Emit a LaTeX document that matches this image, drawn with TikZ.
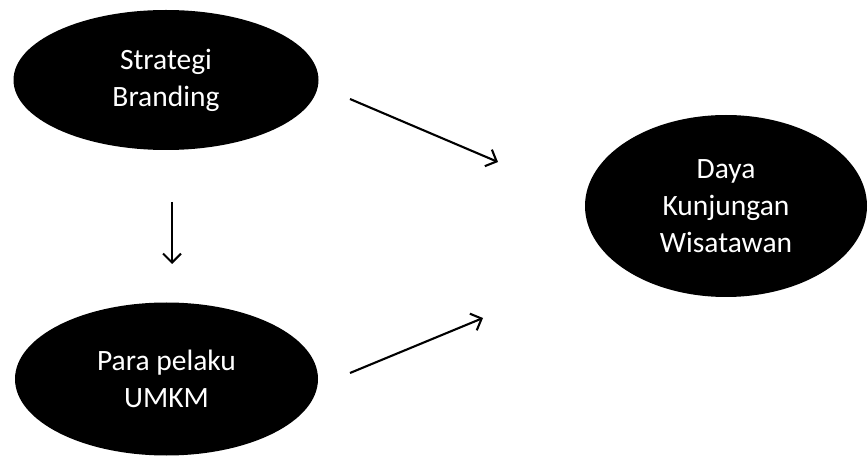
\documentclass[tikz,border=0pt]{standalone}
\usepackage{fontspec}
\setmainfont{Carlito}
\usetikzlibrary{shapes.geometric,arrows.meta}
\begin{document}
\begin{tikzpicture}[x=1pt,y=-1pt,
  oval/.style={ellipse,fill=black,draw=none,inner sep=0pt,text=white,align=center,
    font=\fontsize{29.5}{37}\selectfont},
  link/.style={line width=2.1pt,-{Straight Barb[length=9pt,width=18pt,line width=2.1pt]}}]
\useasboundingbox (0,0) rectangle (868,457);
\node[oval,minimum width=305pt,minimum height=140pt] (sb) at (166,80) {Strategi\\Branding};
\node[oval,minimum width=303pt,minimum height=153pt] (um) at (166.5,379) {Para pelaku\\UMKM};
\node[oval,minimum width=282pt,minimum height=182pt] (dk) at (726,206) {Daya\\Kunjungan\\Wisatawan};
\coordinate (a1s) at (350,99);
\coordinate (a1e) at (498,162);
\coordinate (a2s) at (350,373);
\coordinate (a2e) at (483,318);
\coordinate (a3s) at (172,202);
\coordinate (a3e) at (172,264);
\draw[link] (a1s) -- (a1e);
\draw[link] (a2s) -- (a2e);
\draw[link] (a3s) -- (a3e);
\end{tikzpicture}
\end{document}
